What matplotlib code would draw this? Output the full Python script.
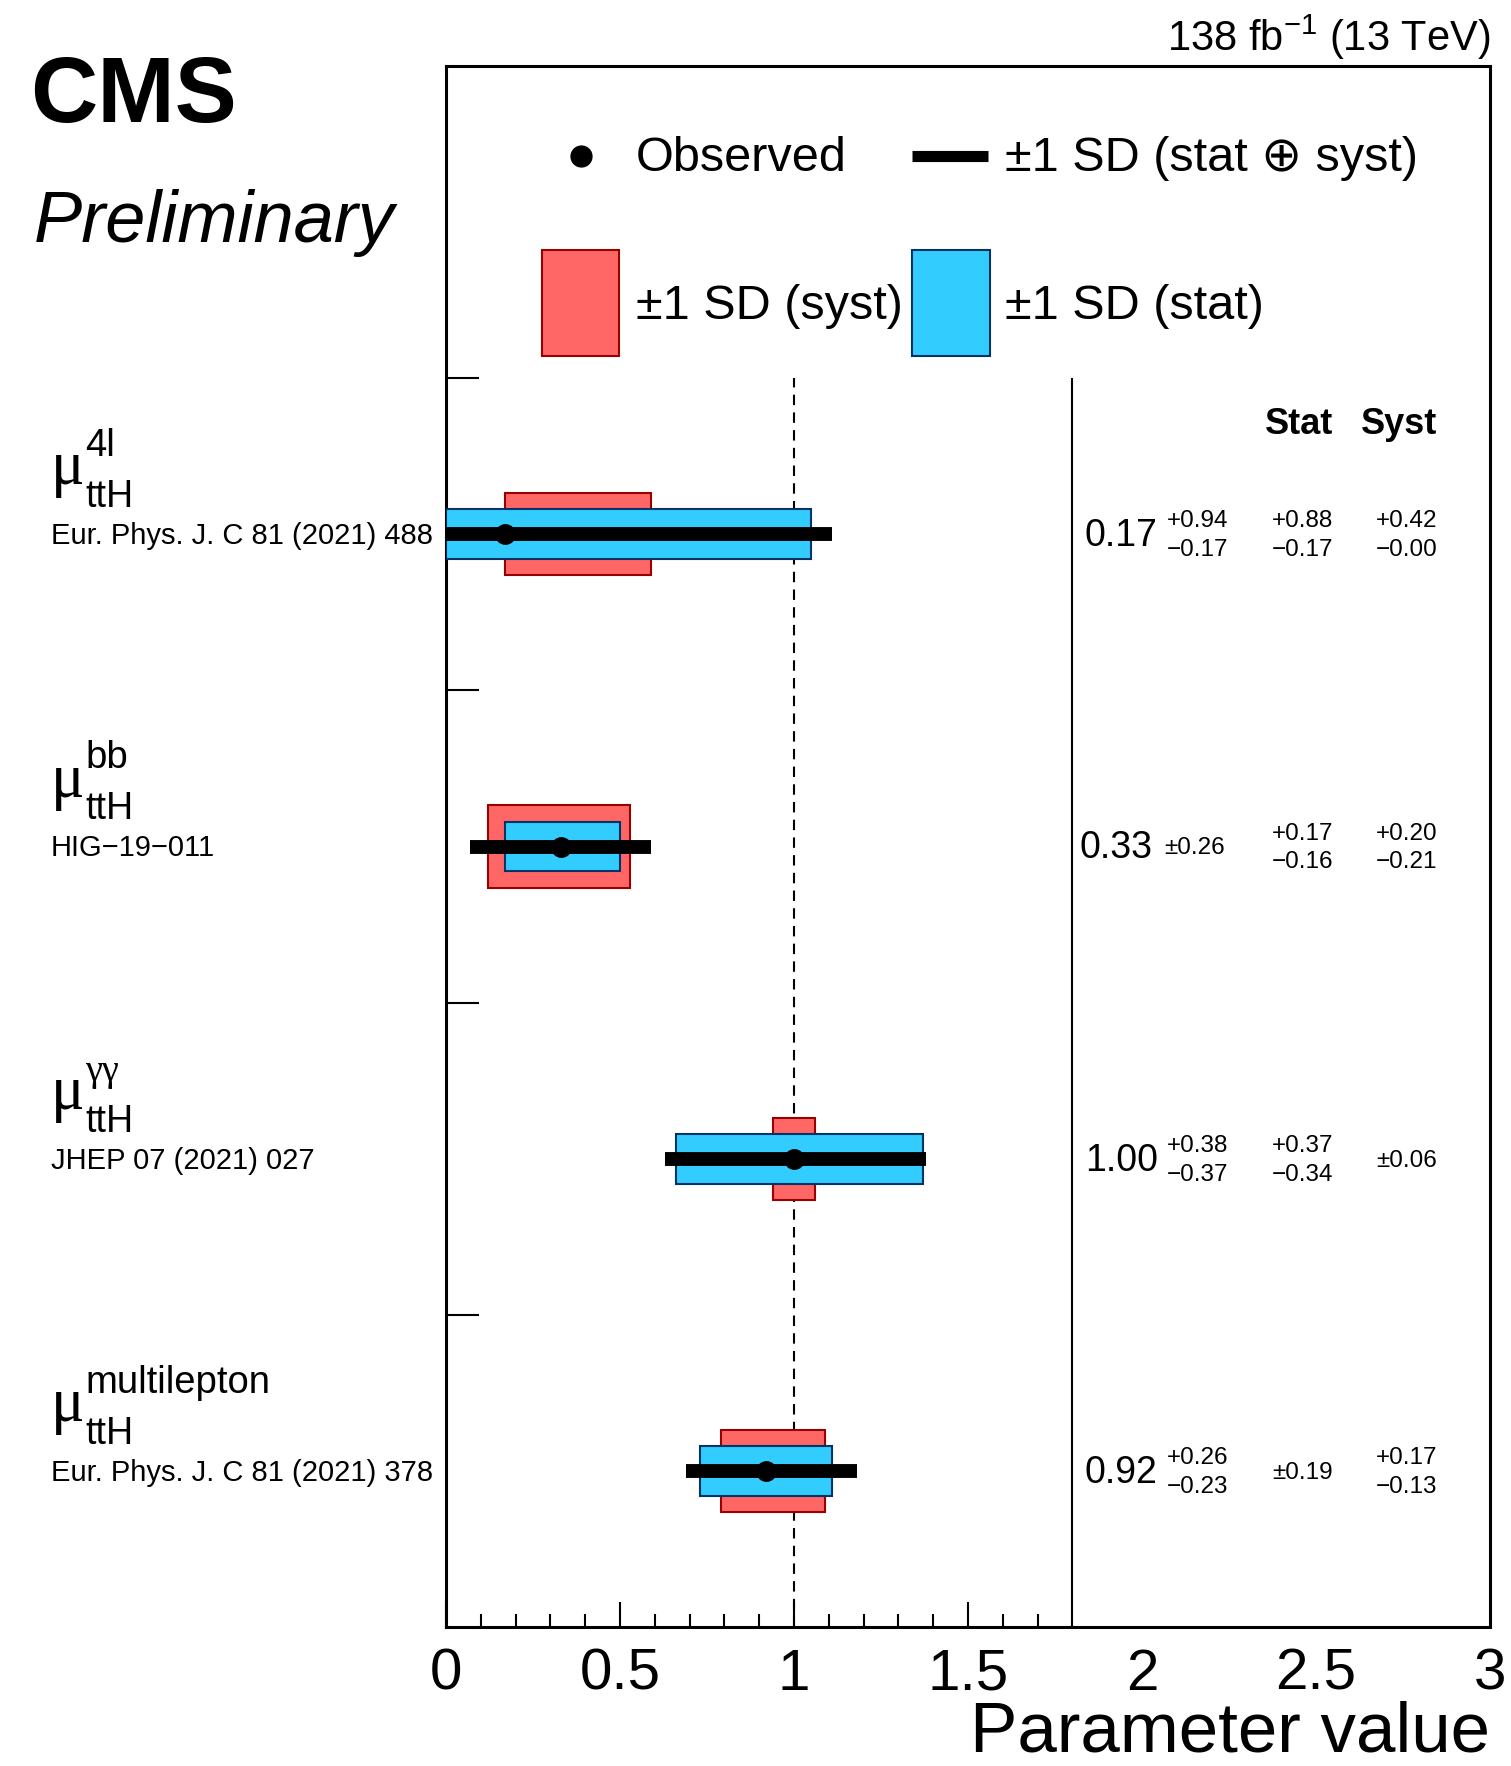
import numpy as np
import matplotlib
matplotlib.use("Agg")
import matplotlib.pyplot as plt
import matplotlib.transforms as mtransforms
from matplotlib.patches import Rectangle
from matplotlib.lines import Line2D
from matplotlib.ticker import FixedLocator

plt.rcParams['font.family'] = ['Liberation Sans', 'DejaVu Sans']
plt.rcParams['mathtext.fontset'] = 'custom'
plt.rcParams['mathtext.rm'] = 'Liberation Sans'
plt.rcParams['mathtext.default'] = 'regular'

# data (top row first)
channels = ['4l', 'bb', 'γγ', 'multilepton']
refs = ['Eur. Phys. J. C 81 (2021) 488', 'HIG\u221219\u2212011',
        'JHEP 07 (2021) 027', 'Eur. Phys. J. C 81 (2021) 378']
obs = [0.17, 0.33, 1.00, 0.92]
tot_hi = [0.94, 0.26, 0.38, 0.26]
tot_lo = [0.17, 0.26, 0.37, 0.23]
stat_hi = [0.88, 0.17, 0.37, 0.19]
stat_lo = [0.17, 0.16, 0.34, 0.19]
syst_hi = [0.42, 0.20, 0.06, 0.17]
syst_lo = [0.00, 0.21, 0.06, 0.13]
xtick_vals = [0, 0.5, 1, 1.5, 2, 2.5, 3]
xtick_labels = ['0', '0.5', '1', '1.5', '2', '2.5', '3']

W, H = 1511, 1766
fig = plt.figure(figsize=(W / 100, H / 100), dpi=100)
ax = fig.add_axes([446 / W, 1 - 1627 / H, 1044 / W, 1561 / H])


def fx(x):
    return x / W


def fy(y):
    return 1 - y / H


n = len(obs)
ypos = np.arange(n)[::-1]
obs_a = np.array(obs)

red, red_edge = '#ff6666', '#990000'
blue, blue_edge = '#33ccff', '#003366'

ax.barh(ypos, np.array(syst_hi) + syst_lo, left=obs_a - syst_lo, height=0.263,
        color=red, edgecolor=red_edge, linewidth=1.5, zorder=2)
ax.barh(ypos, np.array(stat_hi) + stat_lo, left=obs_a - stat_lo, height=0.159,
        color=blue, edgecolor=blue_edge, linewidth=1.5, zorder=3)
ax.hlines(ypos, obs_a - tot_lo, obs_a + tot_hi, color='k', linewidth=10, zorder=4)
ax.plot(obs_a, ypos, 'o', color='k', markersize=14, zorder=5)

ax.vlines(1.0, -0.5, 3.5, color='k', linewidth=1.5, linestyles=(0, (5, 3.5)), zorder=1)
ax.vlines(1.8, -0.5, 3.5, color='k', linewidth=1.5, zorder=1)

ax.set_xlim(0, 3)
ax.set_ylim(-0.5, 4.5)
for s in ax.spines.values():
    s.set_linewidth(2.2)

ax.set_xticks(xtick_vals)
ax.set_xticklabels(xtick_labels, fontsize=42)
ax.xaxis.set_minor_locator(FixedLocator([v / 10 for v in range(1, 18) if v % 5 != 0]))
ax.tick_params(axis='x', which='major', direction='in', length=18, width=1.5, pad=15)
ax.tick_params(axis='x', which='minor', direction='in', length=9.5, width=1.5)
for t in ax.xaxis.get_major_ticks():
    if t.get_loc() > 1.8:
        t.tick1line.set_visible(False)
ax.set_yticks([0.5, 1.5, 2.5, 3.5])
ax.set_yticklabels([])
ax.tick_params(axis='y', direction='in', length=24, width=1.5)
ax.set_xlabel('Parameter value', fontsize=51, loc='right', labelpad=-1)

# value columns
ax.text(2.549, 3.32, 'Stat', fontsize=26, fontweight='bold', ha='right', va='baseline')
ax.text(2.848, 3.32, 'Syst', fontsize=26, fontweight='bold', ha='right', va='baseline')


def err_text(x, y, hi, lo, size, ha):
    if abs(hi - lo) < 1e-9:
        ax.text(x, y - 0.025, f'\u00b1{hi:.2f}', fontsize=size, ha=ha, va='baseline')
    else:
        ax.text(x, y + 0.022, f'+{hi:.2f}', fontsize=size, ha=ha, va='baseline')
        ax.text(x, y - 0.07, f'\u2212{lo:.2f}', fontsize=size, ha=ha, va='baseline')


for i in range(n):
    y = ypos[i]
    sym = abs(tot_hi[i] - tot_lo[i]) < 1e-9
    vx, ex = (2.029, 2.063) if sym else (2.045, 2.072)
    ax.text(vx, y - 0.038, f'{obs[i]:.2f}', fontsize=27, ha='right', va='baseline')
    err_text(ex, y, tot_hi[i], tot_lo[i], 17.5, 'left')
    err_text(2.549, y, stat_hi[i], stat_lo[i], 17.5, 'right')
    err_text(2.848, y, syst_hi[i], syst_lo[i], 17.5, 'right')

# row labels
tr = mtransforms.blended_transform_factory(fig.transFigure, ax.transData)
for i in range(n):
    y = ypos[i]
    ax.text(fx(51), y + 0.16, '\u03bc', transform=tr, fontsize=45,
            family='Liberation Serif', ha='left', va='baseline')
    sup_family = ['Liberation Serif'] if channels[i] == 'γγ' else ['Liberation Sans', 'DejaVu Sans']
    ax.text(fx(85), y + 0.25, channels[i], transform=tr, fontsize=27.5, family=sup_family,
            ha='left', va='baseline')
    ax.text(fx(85), y + 0.087, 'ttH', transform=tr, fontsize=27, ha='left', va='baseline')
    ax.text(fx(51), y - 0.032, refs[i], transform=tr, fontsize=21, ha='left', va='baseline')

# header texts
fig.text(fx(30), fy(122), 'CMS', fontsize=67, fontweight='bold', ha='left', va='baseline')
fig.text(fx(34), fy(242), 'Preliminary', fontsize=52, style='italic', ha='left', va='baseline')
fig.text(fx(1490), fy(51), r'138 fb$^{-1}$ (13 TeV)', fontsize=30, ha='right', va='baseline')

# legend
fig.add_artist(Line2D([fx(581)], [fy(156)], marker='o', color='k', markersize=15,
                      transform=fig.transFigure))
fig.text(fx(636), fy(171), 'Observed', fontsize=35, ha='left', va='baseline')
fig.add_artist(Line2D([fx(912), fx(988)], [fy(156), fy(156)], color='k', linewidth=8,
                      solid_capstyle='butt', transform=fig.transFigure))
fig.text(fx(1005), fy(171), '\u00b11 SD (stat \u2295 syst)', fontsize=35, ha='left', va='baseline')
fig.add_artist(Rectangle((fx(542), fy(356)), fx(77), 106 / H, facecolor=red, edgecolor=red_edge,
                         linewidth=1.5, transform=fig.transFigure))
fig.text(fx(636), fy(319), '\u00b11 SD (syst)', fontsize=35, ha='left', va='baseline')
fig.add_artist(Rectangle((fx(912), fy(356)), fx(78), 106 / H, facecolor=blue, edgecolor=blue_edge,
                         linewidth=1.5, transform=fig.transFigure))
fig.text(fx(1005), fy(319), '\u00b11 SD (stat)', fontsize=35, ha='left', va='baseline')

fig.savefig('out.png', dpi=100)
